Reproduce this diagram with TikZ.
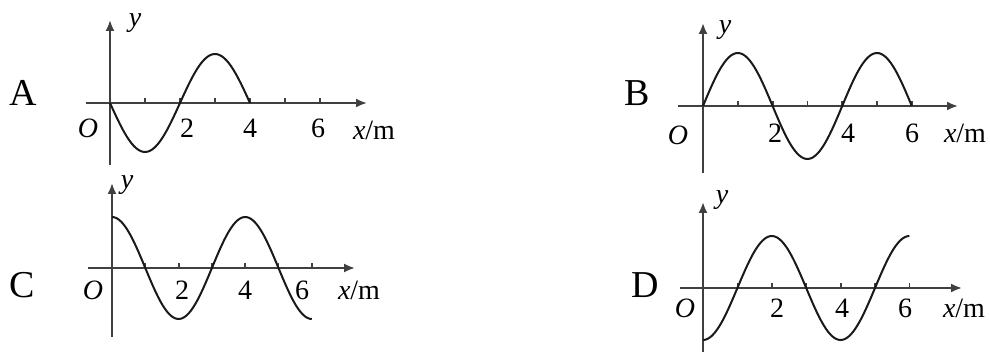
\documentclass[tikz,border=0pt]{standalone}
\usepackage{fontspec}
\setmainfont{Liberation Serif}
\usetikzlibrary{arrows.meta}

\tikzset{
  axis/.style={line width=1pt, black!75, -{Latex[length=5.5pt,width=4.5pt]}},
  tickmark/.style={line width=0.9pt, black!75},
  wave/.style={line width=1pt, black!90},
  lbl/.style={inner sep=0pt, font=\fontsize{14}{14}\selectfont},
  choice/.style={inner sep=0pt, font=\fontsize{19}{19}\selectfont},
}

\begin{document}
\begin{tikzpicture}[x=0.5pt,y=0.5pt]
\useasboundingbox (0,0) rectangle (990,353);

% panel A
\node[choice] (labA) at (23,260) {A};
\begin{scope}[shift={(110,250)}]
\draw[axis] (-24,0) -- (257,0);
\draw[axis] (0,-62) -- (0,83);
\foreach \i in {1,...,6} \draw[tickmark] ({35*\i},0) -- ({35*\i},5);
\draw[wave] plot[smooth, domain=0:4, samples=60] ({35*\x}, {-49*sin(90*\x)});
\node[lbl] (A-y) at (25,80) {\textit{y}};
\node[lbl] (A-O) at (-22,-25) {\textit{O}};
\node[lbl] (A-2) at (77,-25) {2};
\node[lbl] (A-4) at (140,-25) {4};
\node[lbl] (A-6) at (208,-25) {6};
\node[lbl] (A-x) at (264,-27) {\textit{x}/m};
\end{scope}

% panel B
\node[choice] (labB) at (637,260) {B};
\begin{scope}[shift={(703,247)}]
\draw[axis] (-25,0) -- (255,0);
\draw[axis] (0,-67) -- (0,83);
\foreach \i in {1,...,6} \draw[tickmark] ({34.8*\i},0) -- ({34.8*\i},5);
\draw[wave] plot[smooth, domain=0:6, samples=90] ({34.8*\x}, {53*sin(90*\x)});
\node[lbl] (B-y) at (22,76) {\textit{y}};
\node[lbl] (B-O) at (-25,-29) {\textit{O}};
\node[lbl] (B-2) at (72,-27) {2};
\node[lbl] (B-4) at (145,-27) {4};
\node[lbl] (B-6) at (209,-27) {6};
\node[lbl] (B-x) at (262,-27) {\textit{x}/m};
\end{scope}

% panel C
\node[choice] (labC) at (22,68) {C};
\begin{scope}[shift={(112,85)}]
\draw[axis] (-24,0) -- (243,0);
\draw[axis] (0,-69) -- (0,85);
\foreach \i in {1,...,6} \draw[tickmark] ({33.3*\i},0) -- ({33.3*\i},5);
\draw[wave] plot[smooth, domain=0:6, samples=90] ({33.3*\x}, {51*cos(90*\x)});
\node[lbl] (C-y) at (15,83) {\textit{y}};
\node[lbl] (C-O) at (-19,-22) {\textit{O}};
\node[lbl] (C-2) at (70,-22) {2};
\node[lbl] (C-4) at (133,-22) {4};
\node[lbl] (C-6) at (190,-22) {6};
\node[lbl] (C-x) at (247,-22) {\textit{x}/m};
\end{scope}

% panel D
\node[choice] (labD) at (645,68) {D};
\begin{scope}[shift={(703,65)}]
\draw[axis] (-23,0) -- (259,0);
\draw[axis] (0,-64) -- (0,86);
\foreach \i in {1,...,6} \draw[tickmark] ({34.4*\i},0) -- ({34.4*\i},5);
\draw[wave] plot[smooth, domain=0:6, samples=90] ({34.4*\x}, {-52*cos(90*\x)});
\node[lbl] (D-y) at (19,88) {\textit{y}};
\node[lbl] (D-O) at (-18,-20) {\textit{O}};
\node[lbl] (D-2) at (74,-20) {2};
\node[lbl] (D-4) at (139,-20) {4};
\node[lbl] (D-6) at (202,-20) {6};
\node[lbl] (D-x) at (261,-20) {\textit{x}/m};
\end{scope}

\end{tikzpicture}
\end{document}
